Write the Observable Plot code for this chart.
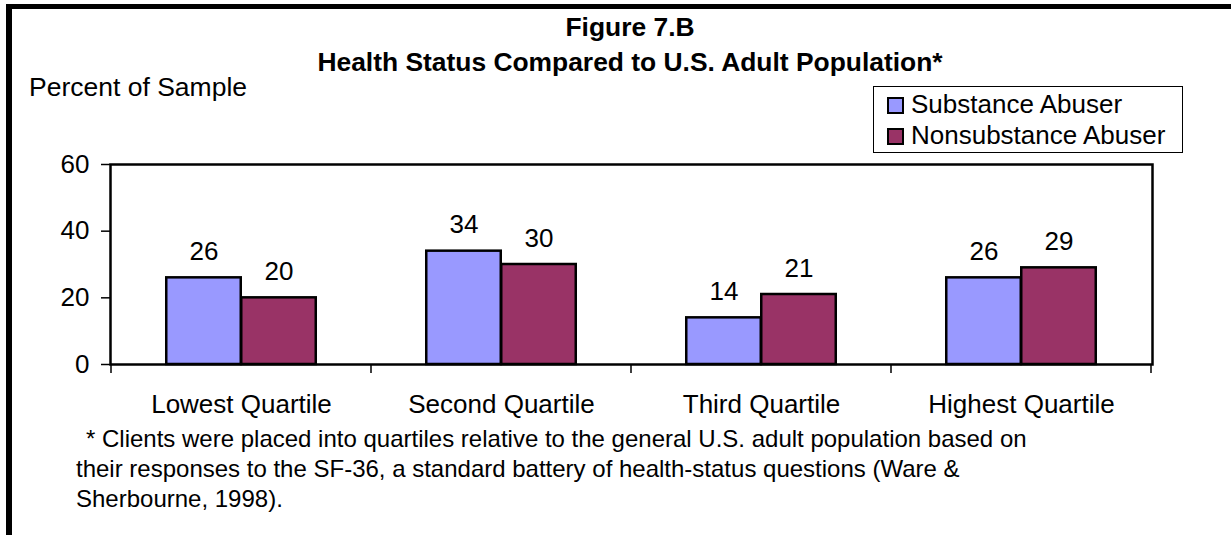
<!DOCTYPE html>
<html><head><meta charset="utf-8">
<script src="https://cdn.jsdelivr.net/npm/d3@7"></script>
<script src="https://cdn.jsdelivr.net/npm/@observablehq/plot@0.6"></script>
<style>
body{margin:0;background:#fff;font-family:"Liberation Sans",Arial,sans-serif;color:#000}
#wrap{position:relative;width:1231px;height:535px;overflow:hidden;background:#fff}
.abs{position:absolute;white-space:nowrap}
#bt{position:absolute;left:6px;top:4px;width:1225px;height:5px;background:#000}
#bl{position:absolute;left:6px;top:4px;width:6px;height:531px;background:#000}
.title{font-weight:bold;font-size:26.4px;line-height:26px;transform:translateX(-50%);left:630px}
#ylab{font-size:26.5px;line-height:26px;left:29px;top:74px}
#legend{position:absolute;left:873px;top:86px;width:310px;height:67px;box-sizing:border-box;border:1px solid #000;background:#fff}
.lrow{position:absolute;left:37px;font-size:26px;line-height:26px;white-space:nowrap}
.sw{position:absolute;left:13px;width:17px;height:17px;box-sizing:border-box;border:2px solid #000}
#foot{position:absolute;left:76px;top:424px;font-size:24px;line-height:30px}
#foot div{white-space:nowrap}
#chart{position:absolute;left:0;top:0}
</style></head><body>
<div id="wrap">
  <div id="chart"></div>
  <div id="bt"></div><div id="bl"></div>
  <div class="abs title" id="t1" style="top:14px"></div>
  <div class="abs title" id="t2" style="top:49px"></div>
  <div class="abs" id="ylab"></div>
  <div id="legend"></div>
  <div id="foot"></div>
</div>
<script>
const categories = ["Lowest Quartile", "Second Quartile", "Third Quartile", "Highest Quartile"];
const seriesNames = ["Substance Abuser", "Nonsubstance Abuser"];
const substanceValues = [26, 34, 14, 26];
const nonsubstanceValues = [20, 30, 21, 29];
const seriesColors = ["#9999FF", "#993366"];
const yTicks = [0, 20, 40, 60];
const titleText = "Figure 7.B";
const subtitleText = "Health Status Compared to U.S. Adult Population*";
const yLabelText = "Percent of Sample";
const footnoteLines = [
  "* Clients were placed into quartiles relative to the general U.S. adult population based on",
  "their responses to the SF-36, a standard battery of health-status questions (Ware &",
  "Sherbourne, 1998)."
];

document.getElementById("t1").textContent = titleText;
document.getElementById("t2").textContent = subtitleText;
document.getElementById("ylab").textContent = yLabelText;

const legend = document.getElementById("legend");
const rowTops = [4, 35];
seriesNames.forEach((name, i) => {
  const sw = document.createElement("div");
  sw.className = "sw";
  sw.style.top = (rowTops[i] + 6) + "px";
  sw.style.background = seriesColors[i];
  legend.appendChild(sw);
  const t = document.createElement("div");
  t.className = "lrow";
  t.style.top = rowTops[i] + "px";
  t.textContent = name;
  legend.appendChild(t);
});

const foot = document.getElementById("foot");
footnoteLines.forEach((line, i) => {
  const d = document.createElement("div");
  d.textContent = line;
  if (i === 0) d.style.paddingLeft = "10px";
  foot.appendChild(d);
});

const W = 1231, H = 430, mL = 110, mR = 79, mT = 164, mB = 66;
const bandW = (W - mL - mR) / categories.length;
const barW = 75;
const inset = (bandW - barW) / 2;

const rows1 = categories.map((c, i) => ({category: c, value: substanceValues[i]}));
const rows2 = categories.map((c, i) => ({category: c, value: nonsubstanceValues[i]}));

function boundaryTicks(index, scales, values, dims) {
  const x = scales.x;
  const bw = typeof x.bandwidth === "function" ? x.bandwidth()
    : (scales.scales && scales.scales.x && scales.scales.x.bandwidth) || (dims.width - dims.marginLeft - dims.marginRight) / categories.length;
  const y0 = scales.y(0);
  const xs = categories.map(c => x(c)).concat([x(categories[categories.length - 1]) + bw]);
  const g = d3.create("svg:g").attr("stroke", "black").attr("stroke-width", 1.5);
  for (const v of xs) g.append("line").attr("x1", v).attr("x2", v).attr("y1", y0).attr("y2", y0 + 9);
  return g.node();
}

const chart = Plot.plot({
  width: W, height: H,
  marginLeft: mL, marginRight: mR, marginTop: mT, marginBottom: mB,
  style: {fontFamily: "'Liberation Sans', Arial, sans-serif", fontSize: "26px", color: "black", background: "transparent", overflow: "visible"},
  x: {type: "band", domain: categories, padding: 0, label: null},
  y: {domain: [0, 60], label: null},
  marks: [
    Plot.barY(rows1, {x: "category", y: "value", fill: seriesColors[0], stroke: "black", strokeWidth: 2.5, dx: -barW / 2, insetLeft: inset, insetRight: inset}),
    Plot.barY(rows2, {x: "category", y: "value", fill: seriesColors[1], stroke: "black", strokeWidth: 2.5, dx: barW / 2, insetLeft: inset, insetRight: inset}),
    Plot.text(rows1, {x: "category", y: "value", text: d => String(d.value), dx: -barW / 2, dy: -18, lineAnchor: "bottom", fontSize: 26, fill: "black"}),
    Plot.text(rows2, {x: "category", y: "value", text: d => String(d.value), dx: barW / 2, dy: -18, lineAnchor: "bottom", fontSize: 26, fill: "black"}),
    Plot.frame({stroke: "black", strokeWidth: 2.5}),
    Plot.axisY({ticks: yTicks, tickSize: 9, tickPadding: 12, fontSize: 26, stroke: "black", strokeWidth: 1.5, label: null}),
    Plot.axisX({tickSize: 0, tickPadding: 30, fontSize: 26, label: null}),
    boundaryTicks
  ]
});
document.getElementById("chart").appendChild(chart);
</script>
</body></html>
